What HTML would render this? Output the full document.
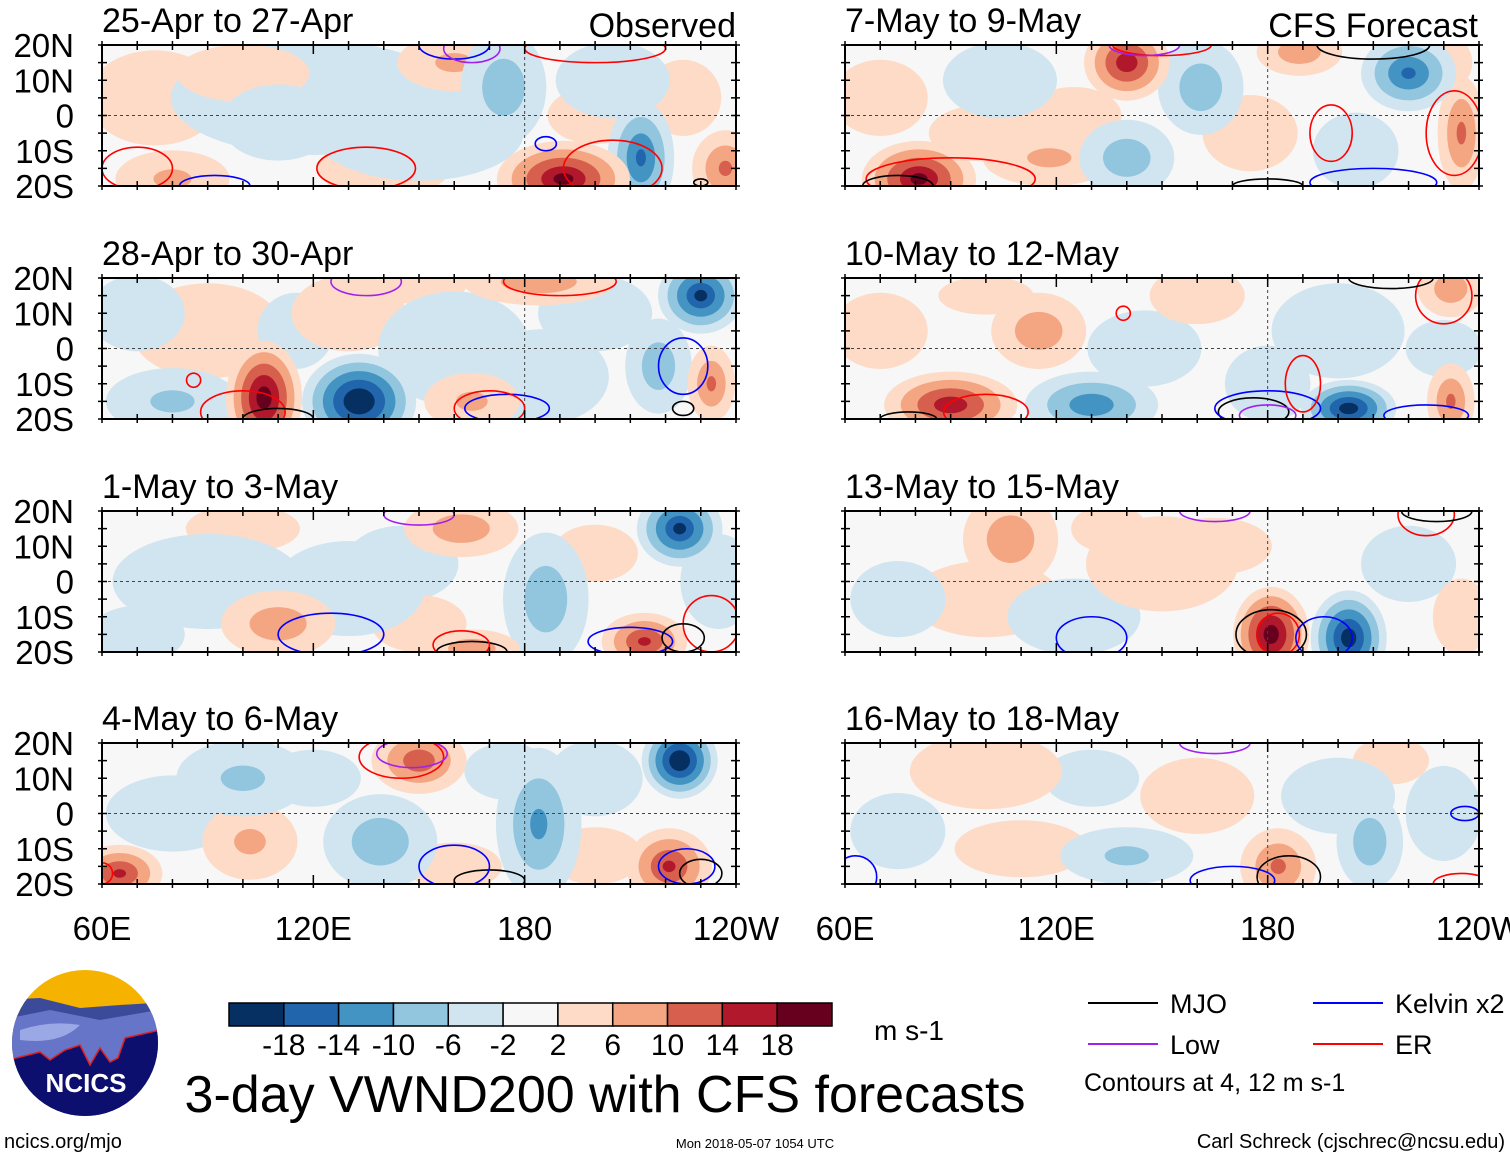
<!DOCTYPE html>
<html><head><meta charset="utf-8">
<style>
html,body{margin:0;padding:0;background:#fff;}
body{width:1510px;height:1158px;overflow:hidden;position:relative;font-family:"Liberation Sans",Arial,sans-serif;}
svg text{font-family:"Liberation Sans",Arial,sans-serif;}
</style></head>
<body>
<svg id="fig" width="1510" height="1158" viewBox="0 0 1510 1158" xmlns="http://www.w3.org/2000/svg"></svg>
<script>
// ---- data ----
const panelTitles = ["25-Apr to 27-Apr","28-Apr to 30-Apr","1-May to 3-May","4-May to 6-May","7-May to 9-May","10-May to 12-May","13-May to 15-May","16-May to 18-May"];
const latTicks = [20,10,0,-10,-20];
const latLabels = ["20N","10N","0","10S","20S"];
const lonTicks = [60,120,180,240];
const lonLabels = ["60E","120E","180","120W"];
const cbLevels = [-18,-14,-10,-6,-2,2,6,10,14,18];
// blobs: [lon, lat, value, lonSpread, latSpread]
const blobs1 = [[75,5,3,14,10],[120,5,-3,30,12],[150,-5,-4,22,10],[174,8,-8,9,12],[160,15,6,12,6],[191,-18,18,14,8],[213,-12,-14,7,12],[237,-15,10,7,8],[80,-18,6,12,6],[100,12,3,14,6],[205,10,-4,12,8],[225,5,3,8,8],[140,-15,3,14,6],[110,-2,-3,12,8],[200,0,3,10,6]];
const blobs2 = [[80,-15,-6,14,7],[90,5,3,16,10],[130,10,4,12,8],[106,-14,20,8,12],[133,-15,-22,12,10],[160,0,-4,16,12],[185,-8,-4,14,10],[165,-15,6,10,6],[184,19,8,16,5],[230,15,-18,9,8],[218,-5,-8,7,10],[233,-10,10,5,8],[70,10,-3,10,8],[200,10,-3,12,8],[115,5,-3,8,8],[150,18,3,10,4]];
const blobs3 = [[90,0,-4,20,10],[130,-2,-4,16,10],[110,-12,8,12,7],[162,15,8,12,6],[186,-5,-8,9,14],[165,-19,8,10,4],[214,-17,14,9,6],[224,15,-18,9,8],[200,8,4,9,6],[145,5,-3,12,8],[70,-15,-3,10,6],[100,15,3,12,5],[235,0,-3,8,10],[150,-12,3,10,6]];
const blobs4 = [[65,-17,14,9,6],[102,-8,6,10,8],[100,10,-6,14,8],[139,-8,-8,12,10],[150,15,12,10,7],[184,-3,-10,9,16],[200,10,-4,10,8],[221,-15,14,9,8],[224,15,-22,8,8],[175,12,-4,9,6],[80,0,-3,14,8],[120,10,-3,10,6],[200,-12,3,10,6],[160,-15,3,10,5]];
const blobs5 = [[81,-18,18,12,8],[104,10,-4,12,8],[118,-12,6,14,6],[140,15,16,9,8],[140,-12,-8,10,8],[161,8,-8,9,10],[189,18,8,9,5],[220,12,-14,10,8],[235,-5,10,5,12],[175,-5,3,10,8],[205,-10,-4,9,8],[70,5,3,10,8],[100,-5,3,12,6],[125,0,3,10,6],[230,15,4,6,6]];
const blobs6 = [[90,-16,16,14,7],[115,5,8,10,8],[130,-16,-12,14,7],[160,15,4,10,6],[203,-17,-20,10,6],[200,5,-4,14,10],[232,17,8,7,6],[232,-15,10,5,8],[180,-10,-3,9,8],[70,5,3,10,8],[145,0,-3,12,8],[100,15,3,10,4],[230,0,-3,8,6]];
const blobs7 = [[107,12,8,10,10],[100,-5,3,16,8],[125,-10,-4,14,8],[150,5,4,16,10],[181,-15,20,8,10],[203,-16,-20,8,10],[220,5,-3,10,8],[165,10,3,12,6],[75,-5,-3,10,8],[135,15,3,8,5],[235,-10,3,6,8]];
const blobs8 = [[100,12,4,16,8],[110,-10,3,14,6],[140,-12,-6,14,6],[183,-15,10,8,8],[209,-8,-8,7,10],[200,5,-4,12,8],[160,5,3,12,8],[230,0,-3,8,10],[75,-5,-3,10,8],[130,10,-3,10,6],[215,15,3,8,5]];
const blobs = [blobs1,blobs2,blobs3,blobs4,blobs5,blobs6,blobs7,blobs8];
// contours: [kind, lon, lat, lonRadius, latRadius]
const cont1 = [["er",135,-15,14,6],["kel",160,20,10,4],["low",165,19,8,4],["er",205,-15,14,8],["kel",186,-8,3,2],["mjo",230,-19,2,1],["er",70,-15,10,6],["kel",92,-20,10,3],["er",200,19,20,4]];
const cont2 = [["er",100,-18,12,6],["mjo",110,-20,10,3],["kel",225,-5,7,8],["kel",175,-17,12,4],["er",170,-17,10,5],["low",135,19,10,4],["er",190,19,16,4],["mjo",225,-17,3,2],["er",86,-9,2,2]];
const cont3 = [["kel",125,-15,15,6],["mjo",165,-20,10,3],["er",162,-18,8,4],["kel",210,-17,12,4],["er",233,-12,8,8],["mjo",225,-16,6,4],["low",150,19,10,3]];
const cont4 = [["er",145,16,12,6],["low",148,17,10,4],["mjo",170,-19,10,3],["kel",160,-15,10,6],["kel",226,-15,8,5],["mjo",230,-17,6,4],["er",60,-17,3,3]];
const cont5 = [["er",150,20,14,3],["low",145,20,10,3],["er",90,-18,24,6],["mjo",75,-20,10,3],["er",198,-5,6,8],["kel",210,-19,18,4],["mjo",180,-20,10,2],["er",233,-5,8,12],["mjo",210,20,16,4]];
const cont6 = [["er",100,-18,12,5],["mjo",78,-20,8,2],["mjo",176,-18,10,4],["kel",180,-17,15,5],["low",180,-19,8,3],["er",190,-10,5,8],["er",230,15,8,8],["mjo",215,20,12,3],["kel",225,-19,12,3],["er",139,10,2,2]];
const cont7 = [["mjo",181,-15,10,7],["er",183,-15,6,6],["kel",196,-16,8,6],["kel",130,-16,10,6],["er",225,19,8,6],["mjo",228,20,10,3],["low",165,20,10,3]];
const cont8 = [["kel",63,-18,6,6],["kel",170,-19,12,4],["mjo",186,-18,9,6],["kel",236,0,4,2],["low",165,20,10,3],["er",235,-20,8,3]];
const contours = [cont1,cont2,cont3,cont4,cont5,cont6,cont7,cont8];

const cbColors = ["#053061","#2166ac","#4393c3","#92c5de","#d1e5f0","#f7f7f7","#fddbc7","#f4a582","#d6604d","#b2182b","#67001f"];
const contColors = {mjo:"#000000",low:"#a020f0",kel:"#0000ff",er:"#ff0000"};

const NS="http://www.w3.org/2000/svg";
const svg=document.getElementById('fig');
function mk(tag,attrs,parent){const e=document.createElementNS(NS,tag);for(const k in attrs)e.setAttribute(k,attrs[k]);(parent||svg).appendChild(e);return e;}
function txt(s,x,y,size,anchor,parent){const t=mk('text',{x:x,y:y,'font-size':size,'text-anchor':anchor||'start',fill:'#000'},parent);t.textContent=s;return t;}

const panelW=634, panelH=141;
const colX=[102,845], rowY=[45,278,511,743];
function colorFor(v){
  let i=5; if(v>=2)i=6+Math.min(4,Math.floor((v-2)/4)); else if(v<=-2)i=4-Math.min(4,Math.floor((-v-2)/4)); return cbColors[i];}

for(let p=0;p<8;p++){
  const x0=colX[p<4?0:1], y0=rowY[p%4];
  const xs=lon=>x0+(lon-60)/180*panelW;
  const ys=lat=>y0+(20-lat)/40*panelH;
  const g=mk('g',{});
  
  
  mk('clipPath',{id:'cp'+p},g);
  mk('rect',{x:x0,y:y0,width:panelW,height:panelH},g.lastChild);
  const inner=mk('g',{'clip-path':'url(#cp'+p+')'},g);
  mk('rect',{x:x0,y:y0,width:panelW,height:panelH,fill:'#f7f7f7'},inner);
  // sort so weak blobs drawn first
  const sorted=blobs[p].slice().sort((a,b)=>Math.abs(a[2])-Math.abs(b[2]));
  sorted.forEach(b=>{
    const [lon,lat,v,sx,sy]=b; const av=Math.abs(v), sg=Math.sign(v);
    for(let L=2;L<=av;L+=4){
      const f=1.35*Math.max(0.15,(av-L+2)/av);
      const e=mk('ellipse',{cx:xs(lon),cy:ys(lat),rx:sx*f*panelW/180,ry:sy*f*panelH/40,fill:colorFor(sg*(L+0.1))},inner);
      
      
    }
  });
  mk('line',{x1:x0,x2:x0+panelW,y1:ys(0),y2:ys(0),stroke:'#444','stroke-dasharray':'3,3','stroke-width':1},inner);
  mk('line',{x1:xs(180),x2:xs(180),y1:y0,y2:y0+panelH,stroke:'#444','stroke-dasharray':'3,3','stroke-width':1},inner);
  contours[p].forEach(c=>{
    const [k,lon,lat,rx,ry]=c;
    const e=mk('ellipse',{cx:xs(lon),cy:ys(lat),rx:rx*panelW/180,ry:ry*panelH/40,fill:'none',stroke:contColors[k],'stroke-width':1.6},inner);
    
    
  });
  mk('rect',{x:x0,y:y0,width:panelW,height:panelH,fill:'none',stroke:'#000','stroke-width':2},g);
  for(let lon=60;lon<=240;lon+=10){const big=lon%60===0;const l=big?9:5;
    mk('line',{x1:xs(lon),x2:xs(lon),y1:y0-4,y2:y0+l,stroke:'#000','stroke-width':1.5},g);
    mk('line',{x1:xs(lon),x2:xs(lon),y1:y0+panelH+4,y2:y0+panelH-l,stroke:'#000','stroke-width':1.5},g);}
  for(let lat=-20;lat<=20;lat+=5){
    mk('line',{x1:x0-4,x2:x0+5,y1:ys(lat),y2:ys(lat),stroke:'#000','stroke-width':1.5},g);
    mk('line',{x1:x0+panelW-5,x2:x0+panelW+4,y1:ys(lat),y2:ys(lat),stroke:'#000','stroke-width':1.5},g);}
  const t=txt(panelTitles[p],x0,y0-13,34,'start',g);
  
  
  if(p<4){latTicks.forEach((lt,i)=>{const l=txt(latLabels[i],74,ys(lt)+12,33,'end',g);
    
    });}
  if(p===3||p===7){lonTicks.forEach((ln,i)=>{const l=txt(lonLabels[i],xs(ln),y0+panelH+56,33,'middle',g);
    
    });}
}
const ob=txt("Observed",736,37,34,'end');  
const cf=txt("CFS Forecast",1478,37,34,'end');  

const cb=mk('g',{});  
const cbx=229, cbw=603, cby=1003, cbh=23, bw=cbw/cbColors.length;
cbColors.forEach((c,i)=>{mk('rect',{x:cbx+i*bw,y:cby,width:bw,height:cbh,fill:c,stroke:'#000','stroke-width':1.5},cb);});
cbLevels.forEach((v,i)=>{const l=txt(String(v),cbx+(i+1)*bw,1055,30,'middle',cb);
  
  });
const un=txt("m s-1",874,1040,28,'start');  
const ti=txt("3-day VWND200 with CFS forecasts",605,1112,52,'middle');  

const lg=mk('g',{});  
[["MJO","#000",1088,1003],["Kelvin x2","#0000ff",1313,1003],["Low","#a020f0",1088,1044],["ER","#ff0000",1313,1044]].forEach(e=>{
  mk('line',{x1:e[2],x2:e[2]+70,y1:e[3],y2:e[3],stroke:e[1],'stroke-width':2},lg);
  const l=txt(e[0],e[2]+82,e[3]+10,27,'start',lg);
  
  
});
const cn=txt("Contours at 4, 12 m s-1",1084,1091,25,'start');  
const u1=txt("ncics.org/mjo",4,1148,20,'start');  
const u2=txt("Mon 2018-05-07 1054 UTC",755,1148,13,'middle');  
const u3=txt("Carl Schreck (cjschrec@ncsu.edu)",1505,1148,20,'end');  

const lo=mk('g',{});  
mk('clipPath',{id:'logoclip'},lo); mk('circle',{cx:85,cy:1043,r:73},lo.lastChild);
const li=mk('g',{'clip-path':'url(#logoclip)'},lo);
mk('rect',{x:0,y:960,width:170,height:170,fill:'#f5b300'},li);
mk('path',{d:'M0 1000 L40 998 L80 1008 L120 1005 L170 1002 L170 1160 L0 1160Z',fill:'#3c4a9a'},li);
mk('path',{d:'M0 1020 L50 1010 L100 1020 L170 1008 L170 1160 L0 1160Z',fill:'#6675c8'},li);
mk('path',{d:'M20 1030 Q50 1020 80 1025 Q60 1045 20 1040Z',fill:'#9aa8e6'},li);
mk('path',{d:'M0 1062 L40 1052 L50 1060 L65 1050 L80 1045 L90 1065 L100 1048 L110 1062 L118 1058 L125 1038 L160 1030 L170 1030 L170 1160 L0 1160Z',fill:'#0d0f6e',stroke:'#e02020','stroke-width':1.5},li);
const nt=txt("NCICS",86,1092,26,'middle',lo); nt.setAttribute('fill','#fff'); nt.setAttribute('font-weight','bold');


</script>
</body></html>
